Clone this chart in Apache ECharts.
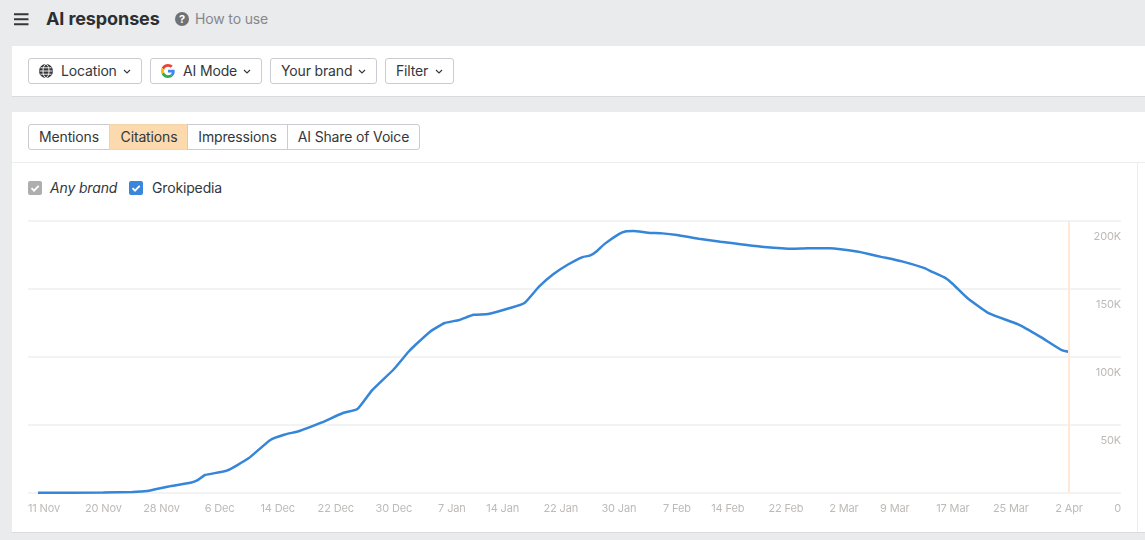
<!DOCTYPE html>
<html>
<head>
<meta charset="utf-8">
<title>AI responses</title>
<script src="https://cdn.jsdelivr.net/npm/echarts@6/dist/echarts.min.js"></script>
<style>
html, body { margin: 0; padding: 0; width: 1145px; height: 540px; overflow: hidden; background: #eaebed; font-family: Inter, "Noto Sans", sans-serif; color: #33373b; font-size: 14px; letter-spacing: -0.15px; }
.abs { position: absolute; }
.title { left: 46px; top: 8px; font-size: 18px; line-height: 22px; font-weight: 700; color: #2b2f33; letter-spacing: -0.1px; }
.howto { left: 195px; top: 10px; line-height: 18px; font-size: 14px; color: #85888c; }
.panel { background: #fff; left: 12px; width: 1133px; box-sizing: border-box; border-bottom: 1px solid #d9dbde; }
.btn { top: 58px; height: 26px; box-sizing: border-box; border: 1px solid #c9ccd0; border-radius: 3px; background: #fff; line-height: 24px; white-space: nowrap; }
.btn span { position: absolute; top: 0; }
.btn svg { position: absolute; }
.tab { top: 124px; height: 26px; box-sizing: border-box; border: 1px solid #c9ccd0; line-height: 24px; text-align: center; background: #fff; white-space: nowrap; }
.check { top: 181px; width: 14px; height: 14px; border-radius: 2px; }
.legend { top: 179px; line-height: 18px; }
</style>
</head>
<body>
<!-- top bar -->
<svg class="abs" style="left:14px;top:13px" width="15" height="13"><path d="M0 1.200H14.500M0 6.200H14.500M0 11.200H14.500" stroke="#33373b" stroke-width="2"/></svg>
<div class="abs title">AI responses</div>
<svg class="abs" style="left:175px;top:12px" width="14" height="14"><circle cx="7" cy="7" r="7" fill="#6e7175"/><text x="7" y="11" font-size="11" font-weight="700" fill="#fff" text-anchor="middle" font-family="Inter">?</text></svg>
<div class="abs howto">How to use</div>

<!-- filters -->
<div class="abs panel" style="top:46px;height:51px"></div>
<div class="abs btn" style="left:28px;width:114px">
  <svg style="left:10px;top:5px" width="14" height="14"><circle cx="7" cy="7" r="7" fill="#33373b"/><g stroke="#fff" stroke-width="0.9" fill="none"><ellipse cx="7" cy="7" rx="3" ry="6.600"/><path d="M0.500 7H13.500M1.500 3.800H12.500M1.500 10.200H12.500"/></g></svg>
  <span style="left:32px">Location</span>
  <svg style="left:94px;top:10px" width="8" height="5" fill="none" stroke="#33373b" stroke-width="1.1"><path d="M1 1L4 4L7 1"/></svg>
</div>
<div class="abs btn" style="left:150px;width:112px">
  <svg style="left:10px;top:5px" width="14" height="14" viewBox="0 0 48 48"><path fill="#EA4335" d="M24 9.500c3.500 0 6.700 1.200 9.200 3.600l6.900-6.900C35.900 2.400 30.500 0 24 0 14.600 0 6.500 5.400 2.600 13.200l8 6.200C12.500 13.700 17.800 9.500 24 9.500z"/><path fill="#4285F4" d="M47 24.500c0-1.600-.1-3.100-.4-4.500H24v9h13c-.6 3-2.200 5.500-4.800 7.200l7.700 6C44.400 37.900 47 31.800 47 24.500z"/><path fill="#FBBC05" d="M10.600 28.600c-.5-1.400-.8-3-.8-4.600s.3-3.200.8-4.600l-8-6.200C.9 16.500 0 20.100 0 24s.9 7.500 2.600 10.800l8-6.200z"/><path fill="#34A853" d="M24 48c6.500 0 11.900-2.100 15.900-5.800l-7.700-6c-2.100 1.400-4.900 2.300-8.200 2.300-6.200 0-11.500-4.200-13.400-9.900l-8 6.200C6.500 42.600 14.600 48 24 48z"/></svg>
  <span style="left:32px">AI Mode</span>
  <svg style="left:92px;top:10px" width="8" height="5" fill="none" stroke="#33373b" stroke-width="1.1"><path d="M1 1L4 4L7 1"/></svg>
</div>
<div class="abs btn" style="left:270px;width:107px">
  <span style="left:10px">Your brand</span>
  <svg style="left:87px;top:10px" width="8" height="5" fill="none" stroke="#33373b" stroke-width="1.1"><path d="M1 1L4 4L7 1"/></svg>
</div>
<div class="abs btn" style="left:385px;width:69px">
  <span style="left:10px">Filter</span>
  <svg style="left:49px;top:10px" width="8" height="5" fill="none" stroke="#33373b" stroke-width="1.1"><path d="M1 1L4 4L7 1"/></svg>
</div>

<!-- chart panel -->
<div class="abs panel" style="top:112px;height:421px"></div>
<div class="abs tab" style="left:28px;width:82px;border-radius:3px 0 0 3px">Mentions</div>
<div class="abs tab" style="left:109px;width:80px;background:#fdd9ae;border-color:#f3d3ab">Citations</div>
<div class="abs tab" style="left:187px;width:101px">Impressions</div>
<div class="abs tab" style="left:287px;width:133px;border-radius:0 3px 3px 0">AI Share of Voice</div>
<div class="abs" style="left:12px;top:162px;width:1133px;height:1px;background:#eceded"></div>
<div class="abs" style="left:1137px;top:162px;width:1px;height:370px;background:#eceded"></div>

<div class="abs check" style="left:28px;background:#aeaeae"><svg width="14" height="14" fill="none" stroke="#fff" stroke-width="1.8"><path d="M3.500 7.200L6 9.700L10.700 4.800"/></svg></div>
<div class="abs legend" style="left:50px;font-style:italic">Any brand</div>
<div class="abs check" style="left:129px;background:#3a86dc"><svg width="14" height="14" fill="none" stroke="#fff" stroke-width="1.8"><path d="M3.500 7.200L6 9.700L10.700 4.800"/></svg></div>
<div class="abs legend" style="left:152px">Grokipedia</div>

<div id="citations_chart" class="abs" style="left:0;top:200px;width:1145px;height:330px"></div>

<script>
// values
var dates = ['2025-11-11','2025-11-20','2025-11-24','2025-11-26','2025-11-27','2025-11-29','2025-12-02','2025-12-03','2025-12-04','2025-12-07',
    '2025-12-10','2025-12-13','2025-12-15','2025-12-17','2025-12-20','2025-12-23','2025-12-25','2025-12-27','2025-12-30','2026-01-01',
    '2026-01-02','2026-01-04','2026-01-06','2026-01-08','2026-01-10','2026-01-12','2026-01-15','2026-01-17','2026-01-19','2026-01-21',
    '2026-01-23','2026-01-25','2026-01-26','2026-01-27','2026-01-28','2026-01-30','2026-01-31','2026-02-01','2026-02-03','2026-02-05',
    '2026-02-07','2026-02-10','2026-02-13','2026-02-16','2026-02-19','2026-02-23','2026-02-25','2026-02-28','2026-03-04','2026-03-07',
    '2026-03-10','2026-03-13','2026-03-14','2026-03-16','2026-03-17','2026-03-19','2026-03-22','2026-03-26','2026-03-29','2026-04-01','2026-04-02'];
var grokipedia = [200,300,800,1400,2600,4800,7600,9500,13200,16400,
    25500,39000,43000,45600,51700,58800,61800,75500,91000,103700,
    109000,118600,125000,127200,131000,131600,136000,139700,151700,161000,
    168000,173500,174500,178000,183000,190400,192400,192600,191400,190900,
    189700,187000,184800,182800,180900,179600,180000,180000,177400,173800,
    170300,165500,163000,158000,153700,143400,132000,124000,115000,105000,103700];
var tickDates = ['2025-11-11','2025-11-20','2025-11-28','2025-12-06','2025-12-14','2025-12-22','2025-12-30','2026-01-07','2026-01-14','2026-01-22',
    '2026-01-30','2026-02-07','2026-02-14','2026-02-22','2026-03-02','2026-03-09','2026-03-17','2026-03-25','2026-04-02'];
var tickLabels = ['11 Nov','20 Nov','28 Nov','6 Dec','14 Dec','22 Dec','30 Dec','7 Jan','14 Jan','22 Jan',
    '30 Jan','7 Feb','14 Feb','22 Feb','2 Mar','9 Mar','17 Mar','25 Mar','2 Apr'];

// days since the first date
function dayOf(s) {
    return Math.round((Date.parse(s) - Date.parse(dates[0])) / 86400000);
}
var tickDays = tickDates.map(dayOf);
var seriesData = dates.map(function (d, i) { return [dayOf(d), grokipedia[i]]; });
var lastDay = dayOf(dates[dates.length - 1]);

var citations_chart = echarts.init(document.getElementById('citations_chart'));
var option = {
    animation: false,
    grid: { left: 28, right: 24, top: 21, bottom: 37 },
    xAxis: {
        type: 'value',
        // the gridlines run a bit past the first and last day
        min: -1.38,
        max: lastDay + 7.16,
        axisLine: { show: false },
        axisTick: { show: false },
        splitLine: { show: false },
        axisLabel: {
            customValues: tickDays,
            color: '#bdbab7',
            fontFamily: 'Inter',
            fontSize: 11,
            margin: 10,
            hideOverlap: false,
            formatter: function (v) {
                var i = tickDays.indexOf(v);
                return i === 0 ? '{first|' + tickLabels[i] + '}' : tickLabels[i];
            },
            rich: { first: { padding: [0, 0, 0, 12], color: '#bdbab7', fontFamily: 'Inter', fontSize: 11 } }
        }
    },
    yAxis: {
        type: 'value',
        position: 'right',
        min: 0,
        max: 200000,
        interval: 50000,
        axisLine: { show: false },
        axisTick: { show: false },
        splitLine: { lineStyle: { color: '#f3f3f3', width: 2 } },
        axisLabel: {
            inside: true,
            margin: 0,
            align: 'right',
            verticalAlign: 'top',
            padding: [10, 0, 0, 0],
            color: '#bdbab7',
            fontFamily: 'Inter',
            fontSize: 11,
            formatter: function (v) { return v === 0 ? '0' : (v / 1000) + 'K'; }
        }
    },
    series: [
        {
            name: 'Grokipedia',
            type: 'line',
            data: seriesData,
            smooth: 0.15,
            showSymbol: false,
            lineStyle: { color: '#3585d8', width: 2.5 },
            itemStyle: { color: '#3585d8' },
            markLine: {
                silent: true,
                symbol: 'none',
                label: { show: false },
                lineStyle: { color: '#ffe9d6', width: 2, type: 'solid' },
                data: [{ xAxis: lastDay }]
            }
        }
    ]
};
citations_chart.setOption(option);
</script>
</body>
</html>
